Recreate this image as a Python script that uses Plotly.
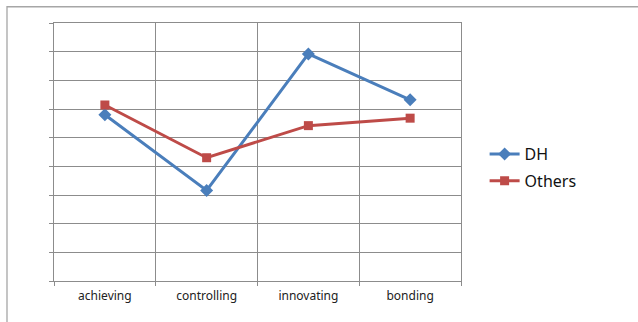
import plotly.graph_objects as go

categories = ["achieving", "controlling", "innovating", "bonding"]
dh_values = [2.90, 1.58, 3.96, 3.16]
others_values = [3.07, 2.15, 2.71, 2.84]

grid = "#8c8c8c"
font_family = "Noto Sans, Open Sans, sans-serif"

fig = go.Figure()
fig.add_trace(go.Scatter(
    x=categories, y=dh_values, name="DH", mode="lines+markers",
    line=dict(color="#4a7ebb", width=3),
    marker=dict(symbol="diamond", size=10, color="#4a7ebb"),
    legendgroup="a",
))
fig.add_trace(go.Scatter(
    x=categories, y=others_values, name="Others", mode="lines+markers",
    line=dict(color="#be4b48", width=3),
    marker=dict(symbol="square", size=9, color="#be4b48"),
    legendgroup="b",
))

fig.update_layout(
    width=638, height=322,
    margin=dict(l=54, r=177, t=23, b=41),
    paper_bgcolor="white", plot_bgcolor="white",
    font=dict(family=font_family, color="#222222"),
    showlegend=True,
    legend=dict(x=1.058, y=0.44, xanchor="left", yanchor="middle",
                font=dict(size=16, color="#111111"),
                tracegroupgap=3, bgcolor="rgba(0,0,0,0)"),
    xaxis=dict(
        type="category", showgrid=True, gridcolor=grid, gridwidth=1.3,
        tickson="boundaries", ticks="outside", ticklen=4, tickcolor=grid,
        showline=True, linecolor=grid, linewidth=1.3, mirror=True,
        tickfont=dict(size=12, color="#222222"), range=[-0.5, 3.5],
        ticklabelstandoff=3,
    ),
    yaxis=dict(
        range=[0, 4.5], dtick=0.5, showgrid=True, gridcolor=grid, gridwidth=1.3,
        ticks="outside", ticklen=4, tickcolor=grid, showticklabels=False,
        showline=True, linecolor=grid, linewidth=1.3, mirror=True,
        zeroline=False,
    ),
    shapes=[dict(type="rect", xref="paper", yref="paper",
                 x0=-0.1155, x1=1.5, y0=-0.3, y1=1.063,
                 line=dict(color="#a6a6a6", width=1.3), layer="below")],
)

fig.write_html("out.html")
